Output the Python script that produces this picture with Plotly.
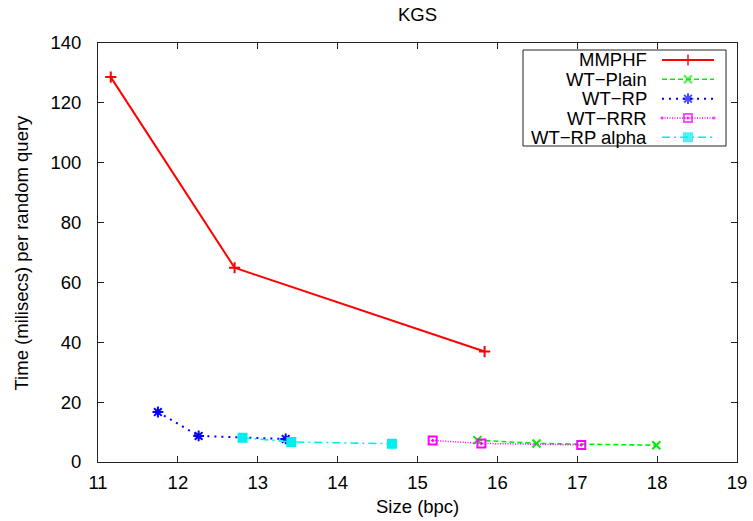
import plotly.graph_objects as go

# ---------------- data ----------------
series_names = ["MMPHF", "WT\u2212Plain", "WT\u2212RP", "WT\u2212RRR", "WT\u2212RP alpha"]

mmphf_x = [11.16, 12.71, 15.84]
mmphf_y = [128.6, 64.9, 36.9]

plain_x = [15.75, 16.49, 17.99]
plain_y = [7.3, 6.2, 5.6]

rp_x = [11.75, 12.26, 13.35]
rp_y = [16.7, 8.7, 7.7]

rrr_x = [15.19, 15.80, 17.05]
rrr_y = [7.2, 6.2, 5.7]

alpha_x = [12.81, 13.42, 14.68]
alpha_y = [8.1, 6.7, 6.1]

x_ticks = [11, 12, 13, 14, 15, 16, 17, 18, 19]
y_ticks = [0, 20, 40, 60, 80, 100, 120, 140]

title_text = "KGS"
x_title = "Size (bpc)"
y_title = "Time (milisecs) per random query"

# ---------------- styles ----------------
FONT = "Liberation Sans, Arial, Helvetica, sans-serif"
FS = 18.5
styles = [
    dict(color="#ff0000", dash="solid", symbol="cross-thin-open", size=8, lw=2),
    dict(color="#00ee00", dash="5px,3px", symbol="x-thin-open", size=8, lw=1.6),
    dict(color="#0000ff", dash="2px,5px", symbol="asterisk-open", size=9, lw=2),
    dict(color="#ff00ff", dash="1px,1.5px", symbol="square-open-dot", size=8, lw=1.5),
    dict(color="#00eeee", dash="8px,4px,2px,4px", symbol="square", size=8, lw=1.6),
]
data = [(mmphf_x, mmphf_y), (plain_x, plain_y), (rp_x, rp_y), (rrr_x, rrr_y), (alpha_x, alpha_y)]

fig = go.Figure()
for name, (xs, ys), st in zip(series_names, data, styles):
    fig.add_trace(go.Scatter(
        x=xs, y=ys, mode="lines+markers", name=name, showlegend=False,
        line=dict(color=st["color"], width=st["lw"], dash=st["dash"]),
        marker=dict(symbol=st["symbol"], size=st["size"], color=st["color"],
                    line=dict(color=st["color"], width=2)),
    ))

# ---------------- layout geometry (page pixels; body margin removed) ----------------
W, H = 753, 521
PL, PR, PT, PB = 98, 737, 43, 462          # plot box in page pixels
L, T = PL, PT
R = W - PR
B = H - PB
pw, ph = PR - PL, PB - PT


def px(xp):
    return (xp - PL) / pw


def py(yp):
    return 1 - (yp - PT) / ph


# ---------------- custom legend (gnuplot style) ----------------
row_y = [60, 79.3, 98.7, 118, 137.3]
for name, st, yy in zip(series_names, styles, row_y):
    fig.add_trace(go.Scatter(
        x=[px(662), px(688), px(714)], y=[py(yy)] * 3, xaxis="x2", yaxis="y2",
        mode="lines+markers", showlegend=False, hoverinfo="skip",
        line=dict(color=st["color"], width=st["lw"], dash=st["dash"]),
        marker=dict(symbol=st["symbol"], size=[0, st["size"], 0], color=st["color"],
                    line=dict(color=st["color"], width=2)),
    ))
    fig.add_annotation(x=px(649), y=py(yy), xref="paper", yref="paper",
                       text=name, showarrow=False, xanchor="right", yanchor="middle",
                       font=dict(family=FONT, size=FS, color="black"))

fig.add_shape(type="rect", xref="paper", yref="paper",
              x0=px(523), x1=px(726), y0=py(146), y1=py(50),
              line=dict(color="#222222", width=1))

# ---------------- titles ----------------
fig.add_annotation(x=0.5, y=py(14), xref="paper", yref="paper", text=title_text,
                   showarrow=False, xanchor="center", yanchor="middle",
                   font=dict(family=FONT, size=FS, color="black"))
fig.add_annotation(x=0.5, y=py(507), xref="paper", yref="paper", text=x_title,
                   showarrow=False, xanchor="center", yanchor="middle",
                   font=dict(family=FONT, size=FS, color="black"))
fig.add_annotation(x=px(21), y=0.5, xref="paper", yref="paper", text=y_title,
                   showarrow=False, xanchor="center", yanchor="middle", textangle=-90,
                   font=dict(family=FONT, size=FS, color="black"))

axis_common = dict(
    showgrid=False, zeroline=False, showline=True, linecolor="#222222", linewidth=1,
    mirror="ticks", ticks="inside", ticklen=6, tickwidth=1, tickcolor="#222222",
    tickfont=dict(family=FONT, size=FS, color="black"), automargin=False,
)

fig.update_layout(
    width=W, height=H,
    margin=dict(l=L, r=R, t=T, b=B, pad=0, autoexpand=False),
    plot_bgcolor="white", paper_bgcolor="white",
    xaxis=dict(range=[11, 19], tickvals=x_ticks, ticklabelstandoff=4, **axis_common),
    yaxis=dict(range=[0, 140], tickvals=y_ticks, ticklabelstandoff=12, **axis_common),
    xaxis2=dict(range=[0, 1], overlaying="x", visible=False, domain=[0, 1]),
    yaxis2=dict(range=[0, 1], overlaying="y", visible=False, domain=[0, 1]),
    showlegend=False,
)

fig.write_html(
    "out.html",
    config={"displayModeBar": False},
    post_script="document.body.style.margin='0';document.body.style.overflow='hidden';",
)
